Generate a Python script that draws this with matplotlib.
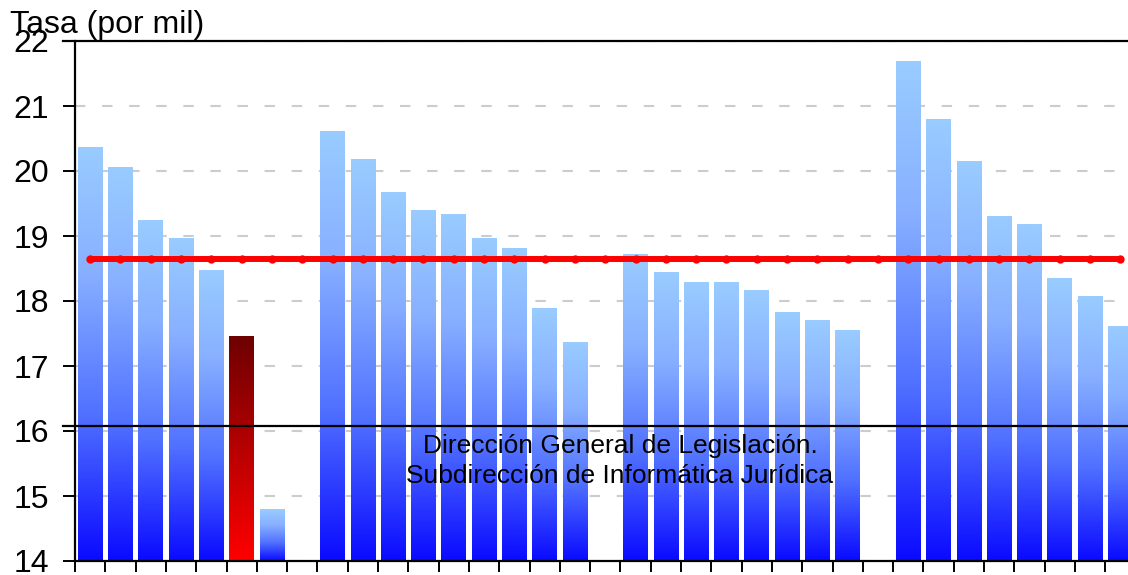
import numpy as np
import matplotlib
matplotlib.use("Agg")
import matplotlib.pyplot as plt
from matplotlib.colors import LinearSegmentedColormap

plt.rcParams['font.family'] = ['Liberation Sans', 'DejaVu Sans']

# ---- data ----
group1 = [20.37, 20.06, 19.25, 18.97, 18.48, 17.46, 14.80]
group2 = [20.62, 20.18, 19.68, 19.40, 19.34, 18.97, 18.82, 17.89, 17.37]
group3 = [18.72, 18.45, 18.29, 18.29, 18.17, 17.83, 17.71, 17.55]
group4 = [21.69, 20.80, 20.15, 19.31, 19.18, 18.35, 18.08, 17.62]
highlight_index = 5          # red bar
average_rate = 18.64         # red horizontal line
reference_line = 16.07       # black horizontal line
y_min, y_max = 14, 22
y_ticks = [14, 15, 16, 17, 18, 19, 20, 21, 22]
y_label = "Tasa (por mil)"
source_text = "Dirección General de Legislación.\nSubdirección de Informática Jurídica"

values = group1 + [np.nan] + group2 + [np.nan] + group3 + [np.nan] + group4
n = len(values)
x = np.arange(n)

# ---- figure ----
W, H = 1128, 575
fig = plt.figure(figsize=(W / 100, H / 100), dpi=100)
ax_left, ax_top, ax_bottom = 75, 41, 561
slot = 30.3
ax = fig.add_axes([ax_left / W, (H - ax_bottom) / H, n * slot / W, (ax_bottom - ax_top) / H])

blue_cmap = LinearSegmentedColormap.from_list(
    "b", [(0.0, "#0a0aff"), (0.35, "#5070ff"), (0.7, "#88b0ff"), (1.0, "#99ccff")])
red_cmap = LinearSegmentedColormap.from_list("r", ["#ff0000", "#6e0000"])

heights = [v - y_min if not np.isnan(v) else 0 for v in values]
bars = ax.bar(x, heights, bottom=y_min, width=0.81, color='none', edgecolor='none', zorder=2)

grad = np.linspace(0, 1, 256).reshape(-1, 1)
for i, (b, v) in enumerate(zip(bars, values)):
    if np.isnan(v):
        continue
    cmap = red_cmap if i == highlight_index else blue_cmap
    x0, w = b.get_x(), b.get_width()
    im = ax.imshow(grad, cmap=cmap, origin='lower', aspect='auto',
                   extent=[x0, x0 + w, y_min, v], zorder=2, interpolation='bilinear')
    im.set_clip_path(b)

# average line with markers
ax.plot(x, [average_rate] * n, color='#ff0000', lw=4.3, marker='o', ms=6.0,
        markeredgewidth=0, zorder=4, solid_capstyle='butt')

ax.set_xlim(-0.5, n - 0.5)
ax.set_ylim(y_min, y_max)
ax.set_yticks(y_ticks)
ax.set_xticks(np.arange(n + 1) - 0.5)
ax.set_xticklabels([])

ax.yaxis.grid(True, color='#cccccc', lw=1.5, linestyle=(0, (5, 8)))
ax.set_axisbelow(True)

for s in ['top', 'right']:
    ax.spines[s].set_visible(False)
for s in ['left', 'bottom']:
    ax.spines[s].set_linewidth(1.6)
    ax.spines[s].set_color('black')
ax.tick_params(axis='y', direction='out', length=8.6, width=1.4, pad=10, labelsize=23)
ax.tick_params(axis='x', direction='out', length=8, width=1.4)

# black reference line extending to the left of the axis
ext = (ax_left - 63) / (n * slot)
ax.plot([-ext, 1.0], [reference_line, reference_line], color='black', lw=1.6,
        transform=ax.get_yaxis_transform(), clip_on=False, zorder=5)
# top line
ax.plot([-ext, 1.0], [1.0, 1.0], color='black', lw=1.6,
        transform=ax.transAxes, clip_on=False, zorder=5)

fig.text(10 / W, 1 - 33 / H, y_label, fontsize=23, va='baseline', ha='left')
fig.text(620 / W, 1 - 461 / H, source_text, fontsize=19, ha='center', va='center',
         multialignment='center', linespacing=1.35, zorder=10)

fig.savefig("out.png", dpi=100)
